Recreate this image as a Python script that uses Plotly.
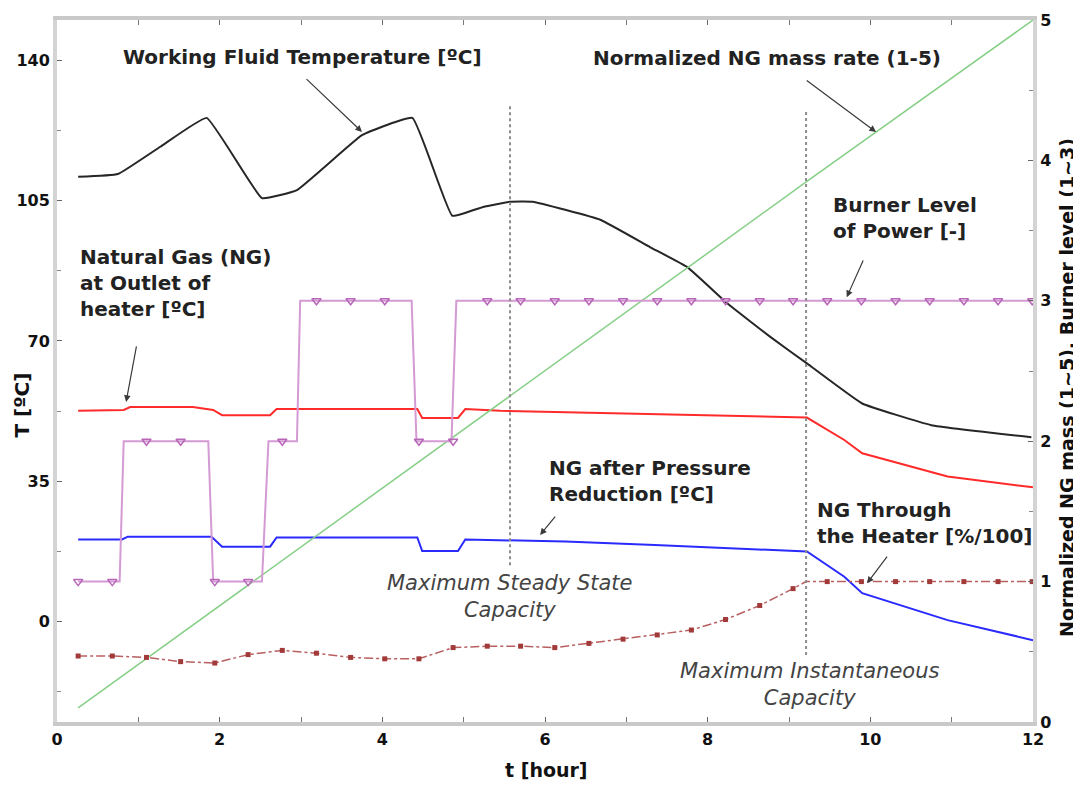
import plotly.graph_objects as go

# ---------------- data ----------------
# Working fluid temperature [degC] (left axis)
wft_t = [0.26, 0.75, 1.27, 1.84, 2.52, 2.95, 3.75, 4.37, 4.86, 5.24, 5.57, 5.85,
         6.68, 7.29, 7.75, 8.24, 8.77, 9.22, 9.90, 10.75, 11.98]
wft_T = [110.9, 111.6, 118.4, 125.6, 105.6, 107.6, 121.3, 125.6, 101.2, 103.4, 104.7, 104.7,
         100.2, 93.4, 88.4, 79.4, 71.0, 64.4, 54.4, 49.0, 46.0]

# NG at outlet of heater [degC] (left axis)
ngout_t = [0.26, 0.82, 0.90, 1.67, 1.92, 2.03, 2.62, 2.70, 4.43, 4.49, 4.93, 5.02,
           5.45, 6.76, 7.94, 9.22, 9.68, 9.90, 10.95, 12.0]
ngout_T = [52.6, 52.8, 53.5, 53.5, 52.8, 51.5, 51.5, 53.0, 53.0, 50.8, 50.8, 53.0,
           52.6, 52.0, 51.5, 50.9, 45.3, 42.0, 36.2, 33.5]

# NG after pressure reduction [degC] (left axis)
ngpr_t = [0.26, 0.80, 0.87, 1.90, 2.03, 2.62, 2.70, 4.43, 4.49, 4.93, 5.02,
          6.25, 7.35, 8.20, 9.22, 9.68, 9.90, 10.95, 12.0]
ngpr_T = [20.5, 20.5, 21.2, 21.2, 18.7, 18.7, 21.0, 21.0, 17.6, 17.6, 20.5,
          20.0, 19.1, 18.3, 17.5, 11.2, 7.1, 0.4, -4.6]

# Normalized NG mass rate (right axis)
mass_t = [0.26, 5.45, 9.22, 12.0]
mass_v = [0.10, 2.27, 3.85, 5.00]

# Burner level of power (right axis)
burner_t = [0.26, 0.77, 0.82, 1.86, 1.92, 2.52, 2.60, 2.95, 2.99, 4.36, 4.42, 4.85, 4.91, 12.0]
burner_v = [1, 1, 2, 2, 1, 1, 2, 2, 3, 3, 2, 2, 3, 3]

# sample times carrying markers
sample_t = [0.26, 0.68, 1.10, 1.52, 1.94, 2.35, 2.77, 3.19, 3.61, 4.03, 4.45, 4.87,
            5.29, 5.70, 6.12, 6.54, 6.96, 7.38, 7.80, 8.22, 8.64, 9.05, 9.47, 9.89,
            10.31, 10.73, 11.15, 11.57, 11.99]
burner_mk = [1, 1, 2, 2, 1, 1, 2, 3, 3, 3, 2, 2, 3, 3, 3, 3, 3, 3, 3, 3, 3, 3, 3, 3,
             3, 3, 3, 3, 3]

# NG through the heater [%/100] (right axis)
heater_mk = [0.47, 0.47, 0.46, 0.43, 0.42, 0.48, 0.51, 0.49, 0.46, 0.45, 0.45, 0.53,
             0.54, 0.54, 0.53, 0.56, 0.59, 0.62, 0.655, 0.73, 0.83, 0.95, 1.0, 1.0,
             1.0, 1.0, 1.0, 1.0, 1.0]
heater_t = sample_t[:22] + [9.21] + sample_t[22:]
heater_v = heater_mk[:22] + [1.0] + heater_mk[22:]

x_ticks = [0, 2, 4, 6, 8, 10, 12]
left_ticks = [0, 35, 70, 105, 140]
right_ticks = [0, 1, 2, 3, 4, 5]

# ---------------- figure ----------------
FONT = "DejaVu Sans"
fig = go.Figure()

fig.add_trace(go.Scatter(x=mass_t, y=mass_v, yaxis="y2", mode="lines",
                         line=dict(color="#86cf86", width=1.5), showlegend=False))
fig.add_trace(go.Scatter(x=wft_t, y=wft_T, mode="lines",
                         line=dict(color="#262626", width=2, shape="spline", smoothing=0.3),
                         showlegend=False))
fig.add_trace(go.Scatter(x=ngout_t, y=ngout_T, mode="lines",
                         line=dict(color="#ff2a2a", width=2), showlegend=False))
fig.add_trace(go.Scatter(x=ngpr_t, y=ngpr_T, mode="lines",
                         line=dict(color="#2a2aff", width=2), showlegend=False))
fig.add_trace(go.Scatter(x=burner_t, y=burner_v, yaxis="y2", mode="lines",
                         line=dict(color="#d49ad4", width=2), showlegend=False))
fig.add_trace(go.Scatter(x=sample_t, y=burner_mk, yaxis="y2", mode="markers",
                         marker=dict(symbol="triangle-down-open", size=8, color="#b866b8",
                                     line=dict(width=1.5)), showlegend=False))
fig.add_trace(go.Scatter(x=heater_t, y=heater_v, yaxis="y2", mode="lines",
                         line=dict(color="#b86060", width=1.5, dash="dashdot"), showlegend=False))
fig.add_trace(go.Scatter(x=sample_t, y=heater_mk, yaxis="y2", mode="markers",
                         marker=dict(symbol="square", size=5, color="#a33a3a"), showlegend=False))

# vertical dotted capacity lines
for xv, y0, y1 in [(5.57, 14.1, 128.8), (9.21, -8.3, 127.1)]:
    fig.add_shape(type="line", xref="x", yref="y", x0=xv, x1=xv, y0=y0, y1=y1,
                  line=dict(color="#8c8c8c", width=2, dash="dot"))

bold = dict(family=FONT, size=20, color="#222222", weight="bold")
ital = dict(family=FONT, size=21, color="#444444", style="italic")

labels = [
    ("Working Fluid Temperature [ºC]", 3.02, 140.8, "center", "center"),
    ("Normalized NG mass rate (1-5)", 8.73, 140.5, "center", "center"),
    ("Burner Level<br>of Power [-]", 9.52, 100.6, "left", "left"),
    ("Natural Gas (NG)<br>at Outlet of<br>heater [ºC]", 0.26, 84.4, "left", "left"),
    ("NG after Pressure<br>Reduction [ºC]", 6.02, 35.0, "left", "left"),
    ("NG Through<br>the Heater [%/100]", 9.32, 24.6, "left", "left"),
]
for txt, xv, yv, xa, al in labels:
    fig.add_annotation(text=txt, x=xv, y=yv, xref="x", yref="y", showarrow=False,
                       xanchor=xa, yanchor="middle", align=al, font=bold)

for txt, xv, yv in [("Maximum Steady State<br>Capacity", 5.57, 6.2),
                    ("Maximum Instantaneous<br>Capacity", 9.25, -15.7)]:
    fig.add_annotation(text=txt, x=xv, y=yv, xref="x", yref="y", showarrow=False,
                       xanchor="center", yanchor="middle", align="center", font=ital)

arrows = [
    (3.75, 122.1, 3.05, 135.6),
    (10.07, 122.1, 9.20, 135.2),
    (9.71, 80.9, 9.92, 90.4),
    (0.85, 54.8, 0.98, 69.0),
    (5.94, 21.6, 6.14, 26.6),
    (9.96, 9.6, 10.22, 16.6),
]
for hx, hy, tx, ty in arrows:
    fig.add_annotation(text="", x=hx, y=hy, ax=tx, ay=ty, xref="x", yref="y",
                       axref="x", ayref="y", showarrow=True, arrowhead=2,
                       arrowsize=1.1, arrowwidth=1.2, arrowcolor="#3a3a3a")

# axis titles
fig.add_annotation(text="T [ºC]", x=-0.036, y=0.452, xref="paper", yref="paper",
                   xanchor="center", yanchor="middle",
                   showarrow=False, textangle=-90, font=dict(family=FONT, size=20, color="#111",
                                                             weight="bold"))
fig.add_annotation(text="Normalized NG mass (1~5), Burner level (1~3)", x=1.035, y=0.476,
                   xref="paper", yref="paper", xanchor="center", yanchor="middle",
                   showarrow=False, textangle=-90,
                   font=dict(family=FONT, size=19, color="#111", weight="bold"))
fig.add_annotation(text="t [hour]", x=0.502, y=-0.068, xref="paper", yref="paper",
                   showarrow=False, xanchor="center", yanchor="middle",
                   font=dict(family=FONT, size=19, color="#111", weight="bold"))

tickfont = dict(family=FONT, size=16, color="#111", weight="bold")
# the page body adds an 8px offset, so the figure is sized/margined to compensate
fig.update_layout(
    width=1073, height=781,
    margin=dict(l=49, r=48, t=12, b=67, pad=0),
    plot_bgcolor="white", paper_bgcolor="white",
    xaxis=dict(range=[0, 12], tickvals=x_ticks, ticks="inside", ticklen=5, tickcolor="#666",
               minor=dict(dtick=1, tick0=0, ticks="inside", ticklen=4, tickcolor="#777"),
               showgrid=False, zeroline=False, showline=True, linecolor="#c9c9c9",
               linewidth=4, mirror="allticks", tickfont=tickfont, automargin=False),
    yaxis=dict(range=[-25, 150], tickvals=left_ticks, ticks="inside", ticklen=5,
               tickcolor="#666",
               minor=dict(dtick=17.5, tick0=0, ticks="inside", ticklen=4, tickcolor="#888"),
               showgrid=False, zeroline=False, showline=True, linecolor="#d4d4d4",
               linewidth=4, tickfont=tickfont, automargin=False),
    yaxis2=dict(range=[0, 5], tickvals=right_ticks, overlaying="y", side="right",
                anchor="x", ticks="inside", ticklen=5, tickcolor="#666",
                minor=dict(dtick=0.5, tick0=0, ticks="inside", ticklen=4, tickcolor="#888"),
                showgrid=False, zeroline=False, showline=True, linecolor="#d4d4d4",
                linewidth=4, tickfont=tickfont, automargin=False, ticklabelstandoff=0),
)

fig.write_html("out.html")
